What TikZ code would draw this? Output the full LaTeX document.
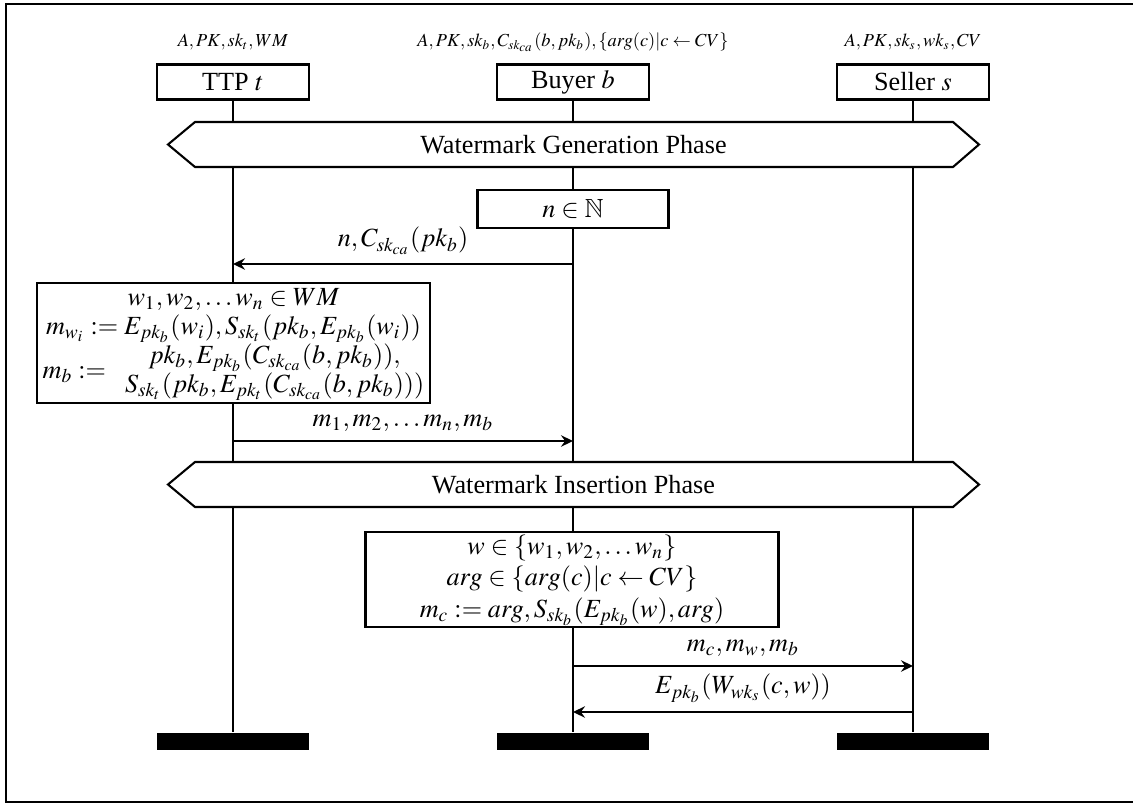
\documentclass[tikz,border=0pt]{standalone}
\usepackage{mathptmx}
\usepackage{amssymb}
\usepackage{fontspec}
\setmainfont{Liberation Serif}
\usetikzlibrary{arrows.meta}
\newlength\ux
\setlength\ux{0.3817pt}
\begin{document}
\begin{tikzpicture}[x=\ux, y=-\ux,
	actor/.style={draw, line width=0.8pt, fill=white, inner sep=1pt,
		minimum width=152\ux, minimum height=35\ux},
	known/.style={font=\scriptsize, inner sep=0pt},
	calc/.style={draw, line width=0.8pt, fill=white, inner sep=0pt},
	endbar/.style={fill=black, inner sep=0pt, minimum width=152\ux, minimum height=17\ux},
	life/.style={line width=0.75pt},
	phase/.style={draw, line width=0.8pt, fill=white},
	msg/.style={line width=0.7pt, -{Stealth[length=4.6pt, width=4.4pt, inset=1.6pt]}}]
	\useasboundingbox (0,0) rectangle (1133,802);
	\draw[line width=0.9pt] (6.2,4.3) rectangle (1160,801.8);

	\node[actor] (ttp)    at (233,82) {TTP $t$};
	\node[actor] (buyer)  at (573,82) {Buyer $b$};
	\node[actor] (seller) at (913,82) {Seller $s$};

	\node[known] (ttpk)    at (233,42) {$A,PK,sk_t,WM$};
	\node[known] (buyerk)  at (573,42) {$A,PK,sk_b,C_{sk_{ca}}(b,pk_b),\{arg(c)|c\leftarrow CV\}$};
	\node[known] (sellerk) at (913,42) {$A,PK,sk_s,wk_s,CV$};

	\node[endbar] (ttpend)    at (233,741.5) {};
	\node[endbar] (buyerend)  at (573,741.5) {};
	\node[endbar] (sellerend) at (913,741.5) {};

	\draw[life] (ttp) -- (ttpend);
	\draw[life] (buyer) -- (buyerend);
	\draw[life] (seller) -- (sellerend);

	\draw[phase] (168,144.5) -- (195,122) -- (953,122) -- (979,144.5)
		-- (953,167) -- (195,167) -- cycle;
	\node (genphase) at (573.5,144.5) {Watermark Generation Phase};

	\node[calc, minimum width=191\ux, minimum height=38\ux] (nonce) at (573,209) {$n\in\mathbb{N}$};

	\coordinate (m1s) at (573,264);
	\coordinate (m1e) at (233,264);
	\draw[msg] (m1s) -- node[above] {$n,C_{sk_{ca}}(pk_b)$} (m1e);

	\node[calc, minimum width=393\ux, minimum height=120\ux] (ttpcalc) at (233.5,343)
		{$\renewcommand{\arraystretch}{0.92}\begin{array}{@{}c@{}}
		w_1,w_2,\dots w_n\in WM\\
		m_{w_i}:=E_{pk_b}(w_i),S_{sk_t}(pk_b,E_{pk_b}(w_i))\\
		m_b:=\begin{array}{c@{}}
			pk_b,E_{pk_b}(C_{sk_{ca}}(b,pk_b)),\\
			S_{sk_t}(pk_b,E_{pk_t}(C_{sk_{ca}}(b,pk_b)))
		\end{array}
		\end{array}$};

	\coordinate (m2s) at (233,441);
	\coordinate (m2e) at (573,441);
	\draw[msg] (m2s) -- node[above] {$m_1,m_2,\dots m_n,m_b$} (m2e);

	\draw[phase] (168,484.5) -- (195,462) -- (953,462) -- (979,484.5)
		-- (953,507) -- (195,507) -- cycle;
	\node (insphase) at (573.5,484.5) {Watermark Insertion Phase};

	\node[calc, minimum width=413\ux, minimum height=93\ux] (buyercalc) at (572,579.5)
		{$\begin{array}{@{}c@{}}
		w\in\{w_1,w_2,\dots w_n\}\\
		arg\in\{arg(c)|c\leftarrow CV\}\\
		m_c:=arg,S_{sk_b}(E_{pk_b}(w),arg)
		\end{array}$};

	\coordinate (m3s) at (573,666);
	\coordinate (m3e) at (913,666);
	\draw[msg] (m3s) -- node[above] {$m_c,m_w,m_b$} (m3e);

	\coordinate (m4s) at (913,712);
	\coordinate (m4e) at (573,712);
	\draw[msg] (m4s) -- node[above] {$E_{pk_b}(W_{wk_s}(c,w))$} (m4e);
\end{tikzpicture}
\end{document}
